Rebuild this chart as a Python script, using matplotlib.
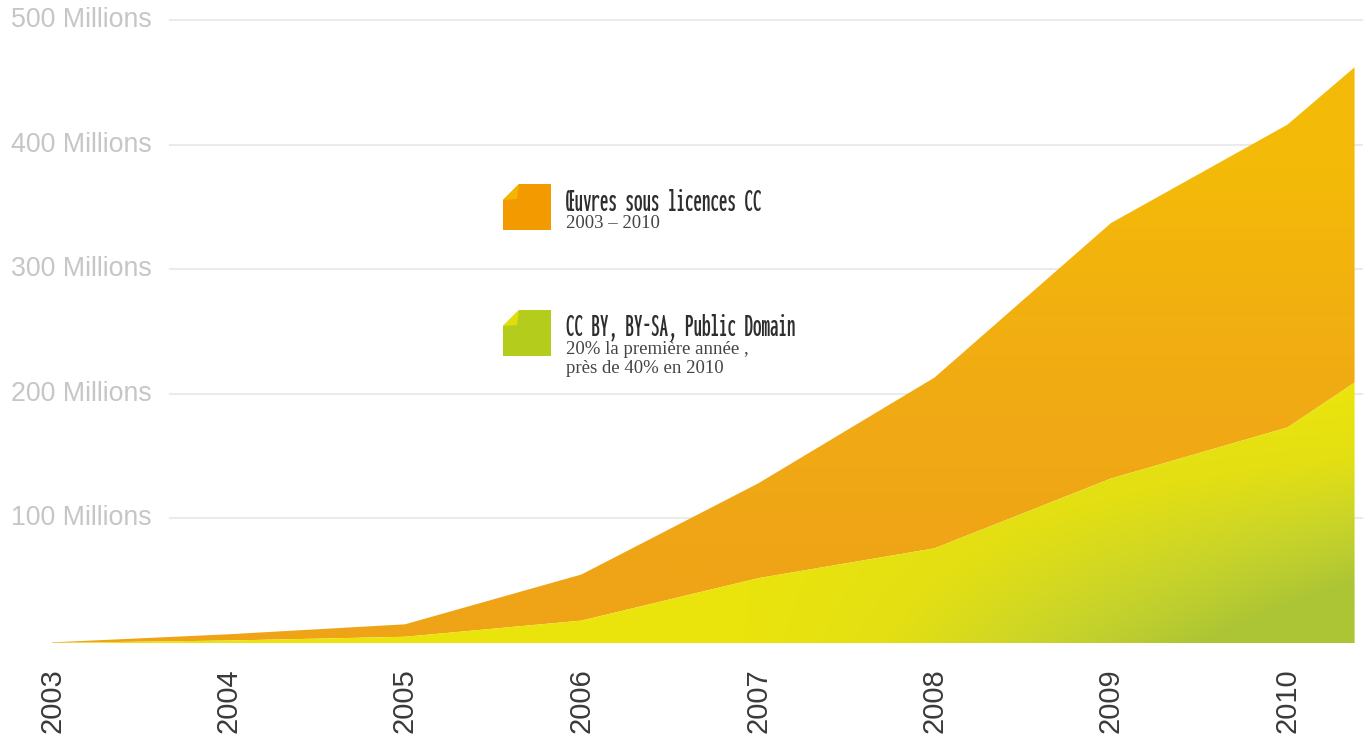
import numpy as np
import matplotlib
matplotlib.use("Agg")
from matplotlib import pyplot as plt
from matplotlib import font_manager
from matplotlib.colors import LinearSegmentedColormap
from matplotlib.font_manager import FontProperties
from matplotlib.ft2font import FT2Font
from matplotlib.patches import Polygon
from matplotlib.textpath import TextPath
from matplotlib.transforms import blended_transform_factory

# data (millions of works), last point = right edge of the chart
years = [2003, 2004, 2005, 2006, 2007, 2008, 2009, 2010, 2010.38]
total = [0.5, 7, 15, 55, 128, 213, 337, 416, 462]
free = [0.1, 2, 5, 18, 52, 76, 132, 173, 209]
tick_years = [2003, 2004, 2005, 2006, 2007, 2008, 2009, 2010]
y_ticks = [100, 200, 300, 400, 500]

W, H = 1363, 738
TITLE1 = "Œuvres sous licences CC"


def _weight(f):
    w = f.weight
    if isinstance(w, str):
        return font_manager.weight_dict.get(w, 400)
    return w


def condensed_bold():
    # narrowest condensed bold face that has the Œ glyph
    best, best_w = None, None
    for f in font_manager.fontManager.ttflist:
        narrow = any(k in f.name for k in ("Narrow", "Condensed", "Compressed")) \
            or f.stretch in ("condensed", "semi-condensed", "extra-condensed")
        if not narrow or f.style != "normal" or not 600 <= _weight(f) <= 800:
            continue
        try:
            if FT2Font(f.fname).get_char_index(ord("Œ")) == 0:
                continue
            fp = FontProperties(fname=f.fname)
            w = TextPath((0, 0), TITLE1, size=10, prop=fp).get_extents().width
        except Exception:
            continue
        if best_w is None or w < best_w:
            best, best_w = fp, w
    return best


cond = condensed_bold()

fig = plt.figure(figsize=(W / 100, H / 100), dpi=100)
ax = fig.add_axes([0, 1 - 643 / H, 1, 643 / H])
ax.set_xlim(2003 - 52 / 176.5, 2003 + 1311 / 176.5)
ax.set_ylim(0, 516)
for s in ax.spines.values():
    s.set_visible(False)
ax.set_yticks([])
ax.set_xticks(tick_years)
ax.set_xticklabels([str(y) for y in tick_years], rotation=90, fontsize=21,
                   color="#3a3a3a", family=["Liberation Sans", "DejaVu Sans"])
ax.tick_params(axis="x", length=0, pad=18)

# grid lines + labels
tr = blended_transform_factory(ax.transAxes, ax.transData)
for v in y_ticks:
    ax.axhline(v, xmin=170 / W, xmax=1, color="#ebebeb", lw=1.5, zorder=0)
    ax.text(11 / W, v, f"{v} Millions", transform=tr, ha="left", va="center",
            fontsize=19.3, color="#c6c6c6", family=["Liberation Sans", "DejaVu Sans"])

x = np.array(years)
xlim = ax.get_xlim()
ylim = ax.get_ylim()
gx, gy = np.meshgrid(np.linspace(xlim[0], xlim[1], 400), np.linspace(ylim[0], ylim[1], 300))

# orange area, vertical gradient
orange_cmap = LinearSegmentedColormap.from_list("o", ["#efa417", "#f1ac13", "#f4ba08"])
t = np.clip((gy - 60) / 320, 0, 1)
poly_o = ax.fill_between(x, free, total, color="none", lw=0)
im = ax.imshow(t, cmap=orange_cmap, extent=[*xlim, *ylim], origin="lower",
               aspect="auto", zorder=2, vmin=0, vmax=1)
im.set_clip_path(poly_o.get_paths()[0], transform=ax.transData)

# green area, diagonal gradient
green_cmap = LinearSegmentedColormap.from_list("g", ["#ebe40c", "#e3df13", "#c9d42a", "#acc535"])
t2 = np.clip((gx - 2006.8) / 3.6, 0, 1) * np.clip(1 - gy / 200, 0, 1)
t2 = np.clip(t2 * 1.3, 0, 1)
poly_g = ax.fill_between(x, 0, free, color="none", lw=0)
im2 = ax.imshow(t2, cmap=green_cmap, extent=[*xlim, *ylim], origin="lower",
                aspect="auto", zorder=2, vmin=0, vmax=1)
im2.set_clip_path(poly_g.get_paths()[0], transform=ax.transData)
ax.set_xlim(xlim)
ax.set_ylim(ylim)


# legend swatches (folded paper), in pixel coords from top-left
def swatch(x0, y0, main, flap):
    def p(px, py):
        return (px / W, 1 - py / H)
    fig.patches.append(Polygon([p(x0, y0 + 46), p(x0 + 48, y0 + 46), p(x0 + 48, y0),
                                p(x0 + 16, y0), p(x0, y0 + 16)],
                               closed=True, transform=fig.transFigure, fc=main, ec="none"))
    fig.patches.append(Polygon([p(x0, y0 + 16), p(x0 + 16, y0), p(x0 + 14, y0 + 15)],
                               closed=True, transform=fig.transFigure, fc=flap, ec="none"))


swatch(503, 184, "#f29a00", "#f4b400")
swatch(503, 310, "#b4cd1c", "#e3dd0c")

if cond is not None:
    head = dict(fontproperties=cond)
else:
    head = dict(weight="bold", family=["DejaVu Sans"])
head.update(color="#2e2e2e", va="baseline")
sub = dict(fontsize=13.5, color="#444444", family=["Liberation Serif", "DejaVu Serif"],
           va="baseline")
h1 = fig.text(566 / W, 1 - 211 / H, TITLE1, **head)
fig.text(566 / W, 1 - 228 / H, "2003 – 2010", **sub)
h2 = fig.text(566 / W, 1 - 335 / H, "CC BY, BY-SA, Public Domain", **head)
fig.text(566 / W, 1 - 354 / H, "20% la première année ,", **sub)
fig.text(566 / W, 1 - 373 / H, "près de 40% en 2010", **sub)

# size the titles so the first one is ~234 px wide, as in the original
h1.set_fontsize(20)
h2.set_fontsize(20)
r = fig.canvas.get_renderer()
wpx = h1.get_window_extent(r).width
size = min(24.5, 20 * 234 / wpx)
h1.set_fontsize(size)
h2.set_fontsize(size)

fig.savefig("out.png", dpi=100, facecolor="white")
